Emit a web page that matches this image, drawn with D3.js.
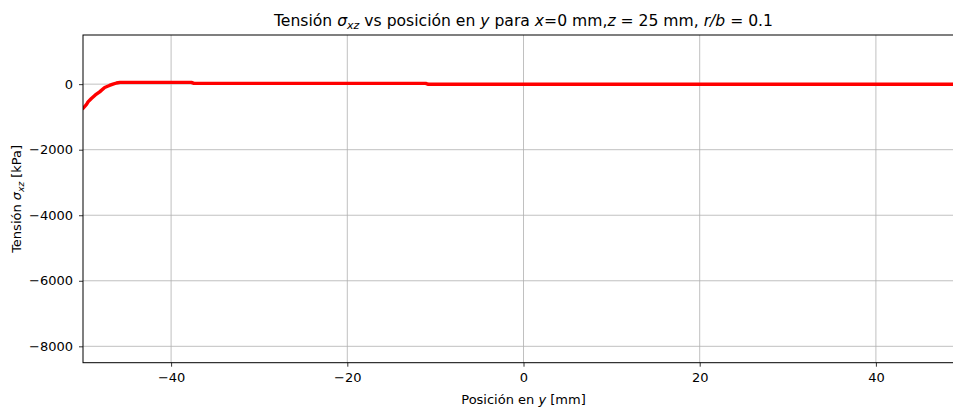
<!DOCTYPE html>
<html><head><meta charset="utf-8">
<script src="https://cdn.jsdelivr.net/npm/d3@7"></script>
<style>
body{margin:0;background:#fff;}
svg{display:block;font-family:"DejaVu Sans",sans-serif;}
.tick text{font-size:13px;fill:#000;font-family:"DejaVu Sans",sans-serif;}
</style></head><body>
<svg id="c" width="953" height="410"></svg>
<script>
// Data (posición y [mm], tensión sigma_xz [kPa])
const posY   = [-50, -49.6, -49.43, -49.05, -48.6, -48.11, -47.54, -47.0, -46.6, -46.2, -45.8, -40, -37.7, -37.4, -30, -20, -11.1, -10.8, 0, 20, 40, 50];
const sigma  = [-742, -620, -540, -437, -330, -235, -101, -40, 0, 35, 55, 55, 55, 25, 25, 25, 25, -5, -5, -5, -5, -5];
const xTicks = [-40, -20, 0, 20, 40];
const yTicks = [-8000, -6000, -4000, -2000, 0];
const xDomain = [-50, 50];
const yDomain = [-8500, 1500];

const svg = d3.select("#c");
const L = 83, R = 964, T = 35, B = 362.7;
const x = d3.scaleLinear().domain(xDomain).range([L, R]);
const y = d3.scaleLinear().domain(yDomain).range([B, T]);
const fmt = d => d < 0 ? "\u2212" + Math.abs(d) : String(d);

// grid
const g = svg.append("g");
g.selectAll(".gx").data(xTicks).enter().append("line")
  .attr("x1", d => x(d)).attr("x2", d => x(d)).attr("y1", T).attr("y2", B)
  .attr("stroke", "#b0b0b0").attr("stroke-width", 0.8);
g.selectAll(".gy").data(yTicks).enter().append("line")
  .attr("x1", L).attr("x2", R).attr("y1", d => y(d)).attr("y2", d => y(d))
  .attr("stroke", "#b0b0b0").attr("stroke-width", 0.8);

// line
svg.append("clipPath").attr("id", "cp").append("rect")
  .attr("x", L).attr("y", T).attr("width", R - L).attr("height", B - T);
const line = d3.line().x((d, i) => x(posY[i])).y((d, i) => y(sigma[i]));
svg.append("path").datum(sigma).attr("d", line).attr("fill", "none")
  .attr("stroke", "#ff0000").attr("stroke-width", 3.4)
  .attr("stroke-linejoin", "round").attr("stroke-linecap", "round")
  .attr("clip-path", "url(#cp)");

// axes
const xa = svg.append("g").attr("transform", `translate(0,${B})`)
  .call(d3.axisBottom(x).tickValues(xTicks).tickFormat(fmt).tickSize(4).tickPadding(6));
const ya = svg.append("g").attr("transform", `translate(${L},0)`)
  .call(d3.axisLeft(y).tickValues(yTicks).tickFormat(fmt).tickSize(4).tickPadding(6));
[xa, ya].forEach(a => { a.select(".domain").remove(); a.selectAll(".tick line").attr("stroke", "#000").attr("stroke-width", 0.8); });

// spines
svg.append("rect").attr("x", L).attr("y", T).attr("width", R - L).attr("height", B - T)
  .attr("fill", "none").attr("stroke", "#000").attr("stroke-width", 1);

// title
const cx = (L + R) / 2;
const title = svg.append("text").attr("x", cx).attr("y", 26).attr("text-anchor", "middle")
  .attr("font-size", 15.6).attr("fill", "#000");
const parts = [
  ["Tensión ", false], ["σ", true], ["xz", true, "sub"], [" vs posición en ", false], ["y", true],
  [" para ", false], ["x", true], ["=0 mm,", false], ["z", true], [" = 25 mm, ", false],
  ["r/b", true], [" = 0.1", false]
];
parts.forEach(p => {
  const t = title.append("tspan").text(p[0]);
  if (p[1]) t.attr("font-style", "italic");
  if (p[2] === "sub") t.attr("font-size", 11).attr("dy", 3);
  else if (p[0] === " vs posición en ") t.attr("dy", -3);
});

// x label
const xl = svg.append("text").attr("x", cx).attr("y", 404).attr("text-anchor", "middle")
  .attr("font-size", 13).attr("fill", "#000");
xl.append("tspan").text("Posición en ");
xl.append("tspan").attr("font-style", "italic").text("y");
xl.append("tspan").text(" [mm]");

// y label
const yl = svg.append("text").attr("transform", `translate(21,${(T + B) / 2}) rotate(-90)`)
  .attr("text-anchor", "middle").attr("font-size", 13).attr("fill", "#000");
yl.append("tspan").text("Tensión ");
yl.append("tspan").attr("font-style", "italic").text("σ");
yl.append("tspan").attr("font-style", "italic").attr("font-size", 9).attr("dy", 3).text("xz");
yl.append("tspan").attr("dy", -3).text(" [kPa]");
</script>
</body></html>
